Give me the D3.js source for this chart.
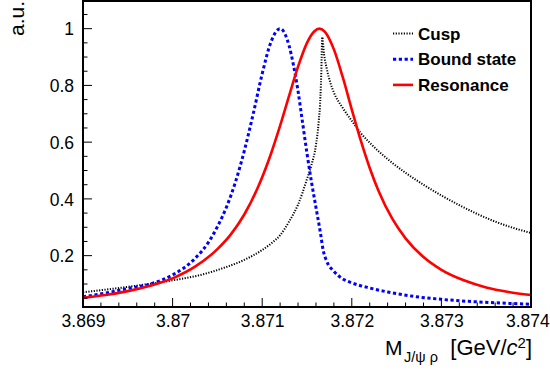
<!DOCTYPE html>
<html>
<head>
<meta charset="utf-8">
<script src="https://cdn.jsdelivr.net/npm/d3@7"></script>
<style>
  html, body { margin: 0; padding: 0; background: #fff; }
  svg { display: block; font-family: "Liberation Sans", Arial, Helvetica, sans-serif; }
</style>
</head>
<body>
<svg id="chart" width="550" height="374"></svg>
<script>
// Line shapes in M(J/psi rho), normalised to unit peak (arbitrary units)
const cuspMass = [3.8690, 3.8695, 3.8700, 3.8703, 3.8706, 3.8708, 3.8710, 3.8711, 3.8712, 3.8713,
  3.8714, 3.8715, 3.87155, 3.8716, 3.87163, 3.87165, 3.87166, 3.87167, 3.87169, 3.87172,
  3.87176, 3.8718, 3.8719, 3.8720, 3.8721, 3.8722, 3.8724, 3.8726, 3.8728, 3.8730,
  3.8732, 3.8734, 3.8736, 3.8738, 3.8740];
const cuspValue = [0.071, 0.090, 0.113, 0.131, 0.160, 0.185, 0.220, 0.243, 0.272, 0.320,
  0.380, 0.470, 0.520, 0.590, 0.670, 0.760, 0.850, 0.970, 0.910, 0.860,
  0.810, 0.775, 0.720, 0.675, 0.632, 0.598, 0.540, 0.492, 0.450, 0.412,
  0.378, 0.347, 0.320, 0.298, 0.280];

const boundMass = [3.8690, 3.86925, 3.8695, 3.86975, 3.8700, 3.87025, 3.8704, 3.8705, 3.8706, 3.8707,
  3.8708, 3.8709, 3.8710, 3.8711, 3.8712, 3.8713, 3.87135, 3.8714, 3.87145, 3.8715,
  3.87155, 3.8716, 3.87165, 3.87168, 3.87172, 3.8718, 3.8719, 3.8720, 3.8722, 3.8724,
  3.8727, 3.8730, 3.8733, 3.8736, 3.8740];
const boundValue = [0.055, 0.068, 0.084, 0.100, 0.132, 0.190, 0.247, 0.302, 0.370, 0.458,
  0.569, 0.700, 0.841, 0.955, 1.000, 0.940, 0.870, 0.780, 0.670, 0.560,
  0.460, 0.370, 0.280, 0.220, 0.180, 0.145, 0.118, 0.104, 0.086, 0.072,
  0.056, 0.046, 0.039, 0.034, 0.0285];

const resMass = [3.8690, 3.86925, 3.8695, 3.86975, 3.8700, 3.87025, 3.8705, 3.87065, 3.8708, 3.87095,
  3.8711, 3.8712, 3.8713, 3.8714, 3.8715, 3.87158, 3.87164, 3.8717, 3.8718, 3.8719,
  3.8720, 3.8721, 3.8722, 3.8723, 3.87245, 3.8726, 3.8728, 3.8730, 3.87325, 3.8735,
  3.87375, 3.8740];
const resValue = [0.051, 0.061, 0.075, 0.094, 0.120, 0.161, 0.223, 0.275, 0.345, 0.439,
  0.561, 0.658, 0.763, 0.866, 0.950, 0.990, 1.000, 0.989, 0.927, 0.828,
  0.715, 0.606, 0.509, 0.427, 0.331, 0.261, 0.195, 0.150, 0.113, 0.088,
  0.072, 0.061];

const xTicks = [3.869, 3.870, 3.871, 3.872, 3.873, 3.874];
const xTickLabels = ["3.869", "3.87", "3.871", "3.872", "3.873", "3.874"];
const yTicks = [0.2, 0.4, 0.6, 0.8, 1.0];
const yTickLabels = ["0.2", "0.4", "0.6", "0.8", "1"];
const legendLabels = ["Cusp", "Bound state", "Resonance"];

const frame = { left: 83, right: 531, top: 1, bottom: 307 };
const svg = d3.select("#chart");

const x = d3.scaleLinear().domain([3.869, 3.874]).range([frame.left, frame.right]);
const y = d3.scaleLinear().domain([0.019, 1.0975]).range([frame.bottom, frame.top]);

svg.append("defs").append("clipPath").attr("id", "plotClip")
  .append("rect")
  .attr("x", frame.left).attr("y", frame.top)
  .attr("width", frame.right - frame.left).attr("height", frame.bottom - frame.top);

// Curves
const series = [
  { mass: cuspMass, value: cuspValue, color: "#000000", width: 2, dash: "1.2 1.5" },
  { mass: boundMass, value: boundValue, color: "#0000ff", width: 3, dash: "3.2 2.6" },
  { mass: resMass, value: resValue, color: "#ff0000", width: 2.6, dash: null }
];

const line = d3.line()
  .x(d => x(d[0]))
  .y(d => y(d[1]))
  .curve(d3.curveMonotoneX);

const plot = svg.append("g").attr("clip-path", "url(#plotClip)");
series.forEach(s => {
  plot.append("path")
    .datum(s.mass.map((m, i) => [m, s.value[i]]))
    .attr("d", line)
    .attr("fill", "none")
    .attr("stroke", s.color)
    .attr("stroke-width", s.width)
    .attr("stroke-dasharray", s.dash);
});

// Axes with major and minor ticks drawn inside the frame
const xMinor = d3.range(3.869, 3.87401, 0.0002).filter(v => !xTicks.some(t => Math.abs(t - v) < 1e-7));
const yMinor = d3.range(0.05, 1.09, 0.05).filter(v => !yTicks.some(t => Math.abs(t - v) < 1e-7));

const labelFont = "17.5px";
const xAxis = svg.append("g").attr("transform", `translate(0,${frame.bottom})`)
  .call(d3.axisBottom(x).tickValues(xTicks).tickSize(0).tickPadding(0)
    .tickFormat((d, i) => xTickLabels[i]));
xAxis.select(".domain").remove();
xAxis.selectAll("text").attr("y", 20).attr("dy", 0)
  .style("font-size", labelFont).attr("fill", "#000");
// keep the last label inside the page
xAxis.selectAll("text").each(function () {
  const b = this.getBBox();
  const tx = x(d3.select(this.parentNode).datum());
  const over = tx + b.x + b.width - 549.5;
  if (over > 0) d3.select(this).attr("x", -over);
});

const yAxis = svg.append("g").attr("transform", `translate(${frame.left},0)`)
  .call(d3.axisLeft(y).tickValues(yTicks).tickSize(0).tickPadding(9)
    .tickFormat((d, i) => yTickLabels[i]));
yAxis.select(".domain").remove();
yAxis.selectAll("text").attr("dy", "0.35em")
  .style("font-size", labelFont).attr("fill", "#000");

const ticks = svg.append("g").attr("stroke", "#000").attr("stroke-width", 1);
xTicks.forEach(v => ticks.append("line")
  .attr("x1", x(v)).attr("x2", x(v)).attr("y1", frame.bottom).attr("y2", frame.bottom - 9));
xMinor.forEach(v => ticks.append("line")
  .attr("x1", x(v)).attr("x2", x(v)).attr("y1", frame.bottom).attr("y2", frame.bottom - 4.5));
yTicks.forEach(v => ticks.append("line")
  .attr("x1", frame.left).attr("x2", frame.left + 9).attr("y1", y(v)).attr("y2", y(v)));
yMinor.forEach(v => ticks.append("line")
  .attr("x1", frame.left).attr("x2", frame.left + 4.5).attr("y1", y(v)).attr("y2", y(v)));

// Frame
svg.append("rect")
  .attr("x", frame.left).attr("y", frame.top)
  .attr("width", frame.right - frame.left).attr("height", frame.bottom - frame.top)
  .attr("fill", "none").attr("stroke", "#000").attr("stroke-width", 2);

// X axis title: M_{J/psi rho} [GeV/c^2], right-aligned at the axis end
const titleY = 355;
svg.append("text")
  .attr("x", 385).attr("y", titleY)
  .style("font-size", "21px").attr("fill", "#000")
  .text("M");
svg.append("text")
  .attr("x", 404).attr("y", titleY + 7)
  .style("font-size", "14.5px").attr("fill", "#000")
  .text("J/\u03C8 \u03C1");
const unit = svg.append("text")
  .attr("x", 532).attr("y", titleY)
  .attr("text-anchor", "end")
  .style("font-size", "22px").attr("fill", "#000");
unit.append("tspan").text("[GeV/");
unit.append("tspan").style("font-style", "italic").text("c");
unit.append("tspan").attr("dy", -7).style("font-size", "15px").text("2");
unit.append("tspan").attr("dy", 7).text("]");

// Y axis title
svg.append("text")
  .attr("transform", "translate(24,1) rotate(-90)")
  .attr("text-anchor", "end")
  .style("font-size", "21px").attr("fill", "#000")
  .text("a.u.");

// Legend
const legend = svg.append("g");
legendLabels.forEach((label, i) => {
  const s = series[i];
  const ly = 33.5 + i * 25.7;
  legend.append("line")
    .attr("x1", 393).attr("x2", 413).attr("y1", ly).attr("y2", ly)
    .attr("stroke", s.color).attr("stroke-width", s.width)
    .attr("stroke-dasharray", s.dash);
  legend.append("text")
    .attr("x", 418).attr("y", ly).attr("dy", "0.36em")
    .style("font-size", "17px").style("font-weight", "bold").attr("fill", "#000")
    .text(label);
});
</script>
</body>
</html>
